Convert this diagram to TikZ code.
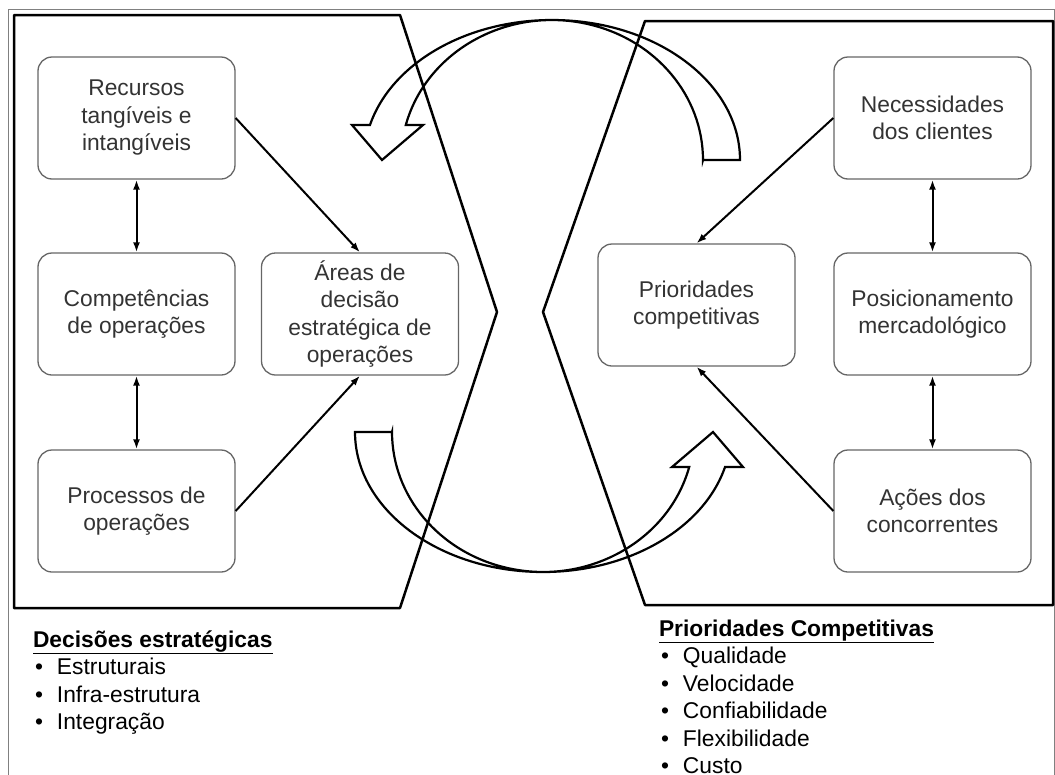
\documentclass[tikz,border=0pt]{standalone}
\usepackage{fontspec}
\setmainfont{Liberation Sans}
\usetikzlibrary{arrows.meta}

\newcommand{\bitem}[1]{\hspace*{2pt}\makebox[22pt][l]{•}#1}

\begin{document}
\begin{tikzpicture}[x=1pt,y=-1pt,line width=2pt]
\tikzstyle{blk}=[draw=black!60,line width=1.3pt,rounded corners=14pt,minimum width=197pt,minimum height=122pt,inner sep=4pt,align=center,text=black!80,font=\fontsize{22.8}{27.5}\selectfont];
\tikzstyle{dir}=[-{Latex[length=10pt,width=7pt]}];
\tikzstyle{bidir}=[{Latex[length=10pt,width=7pt]}-{Latex[length=10pt,width=7pt]}];
\tikzstyle{panel}=[line width=2.5pt,line join=round];
\tikzstyle{turn}=[line width=2.2pt];
\tikzstyle{lst}=[anchor=base west,align=left,inner sep=0pt,font=\fontsize{22.8}{27.5}\selectfont];

\useasboundingbox (0,0) rectangle (1055,774);
\clip (0,0) rectangle (1055,774);
\draw[gray,line width=1pt] (8,9) rectangle (1054,790);

% the two halves
\draw[panel] (14,15) -- (400,15) -- (497,312) -- (400,608) -- (14,608) -- cycle;
\draw[panel] (645,21) -- (1053,21) -- (1053,605) -- (645,605) -- (543,312) -- cycle;

% curved block arrows
\foreach \ang in {0,180}
  \draw[turn,rotate around={\ang:(547.5,296)}] (703,160) -- (740,160)
    arc[start angle=0,end angle=165.5,x radius=188pt,y radius=140pt]
    -- (352,125) -- (382,160) -- (423,125) -- (405.8,125)
    arc[start angle=165.5,end angle=0,x radius=151pt,y radius=140pt] -- cycle;

\node [blk] (rec) at (136.5,118) {Recursos\\tangíveis e\\intangíveis};
\node [blk] (comp) at (136.5,314) {Competências\\de operações};
\node [blk] (proc) at (136.5,511) {Processos de\\operações};
\node [blk] (areas) at (360,314) {Áreas de\\decisão\\estratégica de\\operações};
\node [blk] (nec) at (932.5,118) {Necessidades\\dos clientes};
\node [blk] (prio) at (696.5,305) {Prioridades\\competitivas};
\node [blk] (pos) at (932.5,314) {Posicionamento\\mercadológico};
\node [blk] (acoes) at (932.5,511) {Ações dos\\concorrentes};

\draw [dir] (rec.east) -- (areas.north);
\draw [dir] (proc.east) -- (areas.south);
\draw [bidir] (rec) -- (comp);
\draw [bidir] (comp) -- (proc);
\draw [dir] (nec.west) -- (prio.north);
\draw [dir] (acoes.west) -- (prio.south);
\draw [bidir] (nec) -- (pos);
\draw [bidir] (pos) -- (acoes);

% lists (placed by the baseline of their last line)
\node [lst] (dec) at (32,729.5) {\underline{\textbf{Decisões estratégicas}}\\\bitem{Estruturais}\\\bitem{Infra-estrutura}\\\bitem{Integração}};
\node [lst] (pc) at (658,773.5) {\underline{\textbf{Prioridades Competitivas}}\\\bitem{Qualidade}\\\bitem{Velocidade}\\\bitem{Confiabilidade}\\\bitem{Flexibilidade}\\\bitem{Custo}};
\end{tikzpicture}
\end{document}
